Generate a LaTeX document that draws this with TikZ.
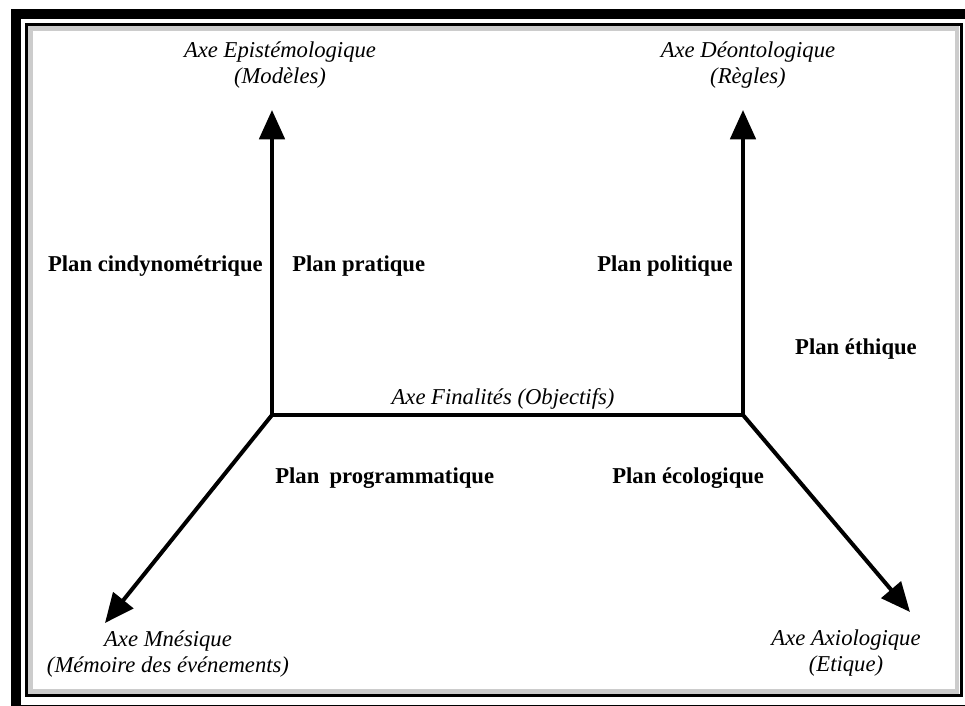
\documentclass[tikz,border=0pt]{standalone}
\usepackage{fontspec}
\setmainfont{Liberation Serif}
\usepackage{tikz}
\usetikzlibrary{arrows.meta, positioning}
\tikzset{
    axe/.style={line width=3pt, -{Triangle[length=22pt, width=19pt]}},
    ligne/.style={line width=3pt},
    axelabel/.style={font=\itshape\fontsize{17}{20}\selectfont, align=center, inner sep=0pt},
    plan/.style={font=\bfseries\fontsize{17}{20}\selectfont, inner sep=0pt},
    cadre/.style={line width=7.5pt}
}

\begin{document}
\begin{tikzpicture}[x=0.75pt, y=-0.75pt]
    \useasboundingbox (0,0) rectangle (965,706);
    % cadre
    \begin{scope}
        \clip (0,0) rectangle (965,706);
        \draw[cadre] (16,14) rectangle (980,710);
    \end{scope}
    \draw[line width=2.25pt] (26.5,24.5) rectangle (961,695.5);
    \draw[gray!40, line width=3.5pt] (30.5,28.5) rectangle (957,691.5);

    % axes
    \coordinate (o1) at (272,415);
    \coordinate (o2) at (743,415);
    \coordinate (tepi) at (272,110);
    \coordinate (tdeo) at (743,110);
    \coordinate (tmne) at (105,623);
    \coordinate (taxi) at (910,612);

    \draw[ligne] (o1) -- (o2);
    \draw[axe] (o1) -- (tepi);
    \draw[axe] (o2) -- (tdeo);
    \draw[axe] (o1) -- (tmne);
    \draw[axe] (o2) -- (taxi);

    \node (epi) [axelabel] at (280,65) {Axe Epistémologique\\(Modèles)};
    \node (deo) [axelabel] at (748,65) {Axe Déontologique\\(Règles)};
    \node (fin) [axelabel] at (503,399) {Axe Finalités (Objectifs)};
    \node (mne) [axelabel] at (168,654) {Axe Mnésique\\(Mémoire des événements)};
    \node (axi) [axelabel] at (846,653) {Axe Axiologique\\(Etique)};

    % plans
    \node (cindy) [plan, anchor=east] at (263,266) {Plan cindynométrique};
    \node (prat) [plan, anchor=west] at (292,266) {Plan pratique};
    \node (poli) [plan, anchor=east] at (733,266) {Plan politique};
    \node (ethi) [plan] at (856,349) {Plan éthique};
    \node (prog) [plan, anchor=west] at (275,478) {Plan\hspace{0.45em}programmatique};
    \node (ecol) [plan, anchor=west] at (612,478) {Plan écologique};
\end{tikzpicture}
\end{document}
